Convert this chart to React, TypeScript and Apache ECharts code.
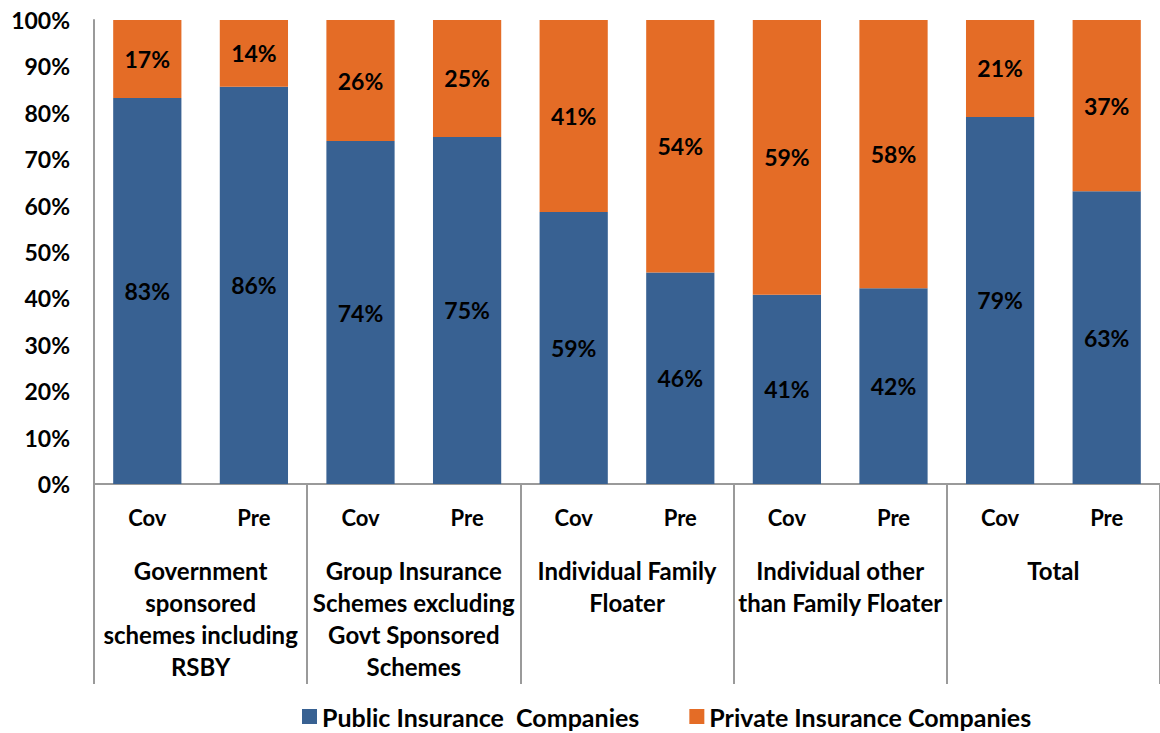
import React, { useEffect, useRef } from "react";
import * as echarts from "echarts";

const subCategories = ["Cov", "Pre", "Cov", "Pre", "Cov", "Pre", "Cov", "Pre", "Cov", "Pre"];
const groups = [
  "Government\nsponsored\nschemes including\nRSBY",
  "Group Insurance\nSchemes excluding\nGovt Sponsored\nSchemes",
  "Individual Family\nFloater",
  "Individual other\nthan Family Floater",
  "Total",
];
const publicValues = [83.2, 85.6, 73.9, 74.8, 58.6, 45.6, 40.8, 42.2, 79.1, 63.1];
const privateValues = [16.8, 14.4, 26.1, 25.2, 41.4, 54.4, 59.2, 57.8, 20.9, 36.9];
const yTicks = [0, 10, 20, 30, 40, 50, 60, 70, 80, 90, 100];

const FONT = "Lato";
const BLUE = "#386192";
const ORANGE = "#E46C26";
const GREY = "#9a9a9a";

export default function App() {
  const ref = useRef<HTMLDivElement>(null);
  useEffect(() => {
    document.body.style.margin = "0";
    const chart = echarts.init(ref.current!, null, { renderer: "svg" });
    const labelStyle = {
      show: true,
      position: "inside",
      color: "#000",
      fontFamily: FONT,
      fontWeight: "bold",
      fontSize: 23,
      formatter: (p: any) => Math.round(p.value) + "%",
    };
    chart.setOption({
      animation: false,
      textStyle: { fontFamily: FONT },
      grid: { left: 94, top: 20, width: 1072, bottom: 249, containLabel: false },
      legend: {
        left: 297,
        top: 699,
        itemWidth: 15,
        itemHeight: 15,
        itemGap: 50,
        icon: "rect",
        textStyle: { fontFamily: FONT, fontWeight: "bold", fontSize: 25, color: "#000" },
        data: ["Public Insurance  Companies", "Private Insurance Companies"],
      },
      xAxis: [
        {
          type: "category",
          data: subCategories,
          position: "bottom",
          axisLine: { show: true, lineStyle: { color: GREY, width: 2 } },
          axisTick: { show: false },
          axisLabel: {
            interval: 0,
            margin: 22,
            color: "#000",
            fontFamily: FONT,
            fontWeight: "bold",
            fontSize: 22,
          },
        },
        {
          type: "category",
          data: groups,
          position: "bottom",
          axisLine: { show: false },
          axisTick: { show: true, length: 200, lineStyle: { color: GREY, width: 2 } },
          axisLabel: {
            interval: 0,
            margin: 70,
            color: "#000",
            fontFamily: FONT,
            fontWeight: "bold",
            fontSize: 24,
            lineHeight: 32,
          },
        },
      ],
      yAxis: {
        type: "value",
        min: yTicks[0],
        max: yTicks[yTicks.length - 1],
        interval: 10,
        axisLine: { show: true, lineStyle: { color: GREY, width: 2 } },
        axisTick: { show: false },
        splitLine: { show: false },
        axisLabel: {
          formatter: "{value}%",
          margin: 24,
          color: "#000",
          fontFamily: FONT,
          fontWeight: "bold",
          fontSize: 23,
        },
      },
      series: [
        {
          name: "Public Insurance  Companies",
          type: "bar",
          stack: "total",
          barWidth: "64%",
          xAxisIndex: 0,
          data: publicValues,
          itemStyle: { color: BLUE },
          label: labelStyle,
        },
        {
          name: "Private Insurance Companies",
          type: "bar",
          stack: "total",
          barWidth: "64%",
          xAxisIndex: 0,
          data: privateValues,
          itemStyle: { color: ORANGE },
          label: labelStyle,
        },
      ],
    });
    return () => chart.dispose();
  }, []);
  return <div ref={ref} style={{ width: 1160, height: 733 }} />;
}
